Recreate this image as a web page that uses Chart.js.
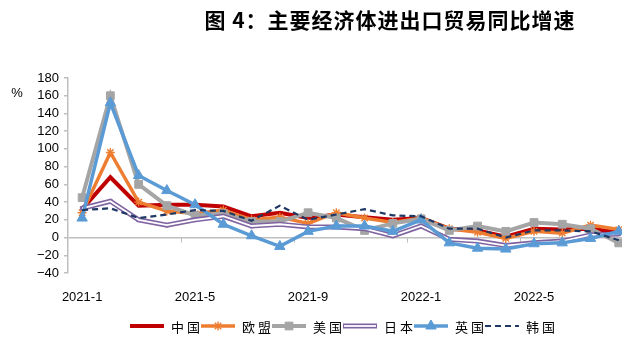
<!DOCTYPE html>
<html>
<head>
<meta charset="utf-8">
<script src="https://cdn.jsdelivr.net/npm/chart.js@4/dist/chart.umd.min.js"></script>
<style>
  html, body { margin: 0; padding: 0; background: #fff; overflow: hidden; }
  #wrap { position: relative; width: 629px; height: 349px; overflow: hidden; }
  #title { position: absolute; left: 0; top: 4px; width: 780px; text-align: center;
           font: bold 21px "Noto Sans CJK SC", sans-serif; color: #000; letter-spacing: 1px; }
  canvas { position: absolute; left: 0; top: 0; }
</style>
</head>
<body>
<div id="wrap">
  <canvas id="myChart" width="629" height="349"></canvas>
  <div id="title">图 4：主要经济体进出口贸易同比增速</div>
</div>
<script>
// 月份 2021-1 .. 2022-8
var months = ['2021-1', '2021-2', '2021-3', '2021-4', '2021-5', '2021-6', '2021-7', '2021-8', '2021-9', '2021-10',
              '2021-11', '2021-12', '2022-1', '2022-2', '2022-3', '2022-4', '2022-5', '2022-6', '2022-7', '2022-8'];
var labelIdx = [0, 4, 8, 12, 16];
var yTicks = [-40, -20, 0, 20, 40, 60, 80, 100, 120, 140, 160, 180];

var china = [32, 68, 36, 37, 37, 35, 24, 28, 22, 26, 23, 20, 22, 10, 8, 1, 10, 9, 10, 6];
var eu    = [28, 96, 40, 30, 27, 31, 20, 23, 16, 28, 22, 17, 22, 10, 6, -1, 7, 5, 14, 9];
var us    = [45, 160, 60, 36, 25, 27, 18, 18, 28, 22, 8, 16, 21, 8, 13, 7, 17, 15, 10, -6];
var japan = [33, 41, 20, 14, 20, 24, 13, 15, 12, 12, 10, 2, 13, -2, -4, -9, -6, -4, 3, 4];
var uk    = [22, 152, 70, 53, 37, 15, 2, -10, 7, 13, 13, 7, 20, -6, -12, -13, -7, -6, -1, 7];
var korea = [31, 33, 22, 26, 31, 30, 19, 36, 20, 26, 32, 25, 24, 10, 10, 0, 8, 8, 7, -3];

function pts(arr) {
    return arr.map(function(v, i) { return { x: i, y: v }; });
}

var axisGray = '#BFBFBF';
var cjk = '"Noto Sans CJK SC", sans-serif';

// 图例 + “%” 标注
var extrasPlugin = {
    id: 'extras',
    beforeDatasetsDraw: function(chart) {
        var ctx = chart.ctx, xs = chart.scales.x, ys = chart.scales.y;
        var y0 = ys.getPixelForValue(0);
        ctx.save();
        ctx.strokeStyle = axisGray;
        ctx.lineWidth = 1;
        [4, 8, 12, 16].forEach(function(k) {
            var px = Math.round(xs.getPixelForValue(k - 0.5)) + 0.5;
            ctx.beginPath();
            ctx.moveTo(px, y0);
            ctx.lineTo(px, y0 + 5);
            ctx.stroke();
        });
        ctx.restore();
    },
    afterDraw: function(chart) {
        var ctx = chart.ctx;
        ctx.save();
        ctx.fillStyle = '#000';
        ctx.font = '13px "Liberation Sans", Arial';
        ctx.textAlign = 'center';
        ctx.textBaseline = 'middle';
        ctx.fillText('%', 17, 93);

        var x = 130, y = 326;
        chart.data.datasets.forEach(function(d) {
            if (d.overlay) return;
            ctx.save();
            ctx.strokeStyle = d.borderColor;
            ctx.lineWidth = d.borderWidth;
            ctx.setLineDash(d.borderDash || []);
            ctx.beginPath();
            ctx.moveTo(x, y);
            ctx.lineTo(x + 34, y);
            ctx.stroke();
            if (d.label === '日本') {
                ctx.strokeStyle = '#fff';
                ctx.lineWidth = 1.8;
                ctx.beginPath();
                ctx.moveTo(x + 1, y);
                ctx.lineTo(x + 33, y);
                ctx.stroke();
            }
            ctx.setLineDash([]);
            if (d.pointRadius > 0 && d.label !== '日本') {
                ctx.fillStyle = d.pointBackgroundColor;
                ctx.strokeStyle = d.pointBorderColor;
                ctx.lineWidth = d.pointBorderWidth;
                Chart.helpers.drawPoint(ctx, {
                    pointStyle: d.pointStyle, radius: d.pointRadius, rotation: 0, borderWidth: d.pointBorderWidth
                }, x + 17, y);
            }
            ctx.fillStyle = '#000';
            ctx.font = '13px ' + cjk;
            ctx.textAlign = 'left';
            ctx.fillText(d.label.split('').join(' '), x + 41, y + 1);
            ctx.restore();
            x += 71;
        });
        ctx.restore();
    }
};

document.addEventListener('DOMContentLoaded', function() {
    var datasets = [
        { label: '韩国', data: pts(korea), borderColor: '#1F3864', borderWidth: 2.2, borderDash: [6, 4],
          pointRadius: 0, order: 0 },
        { label: '英国', data: pts(uk), borderColor: '#5B9BD5', borderWidth: 3.5,
          pointStyle: 'triangle', pointRadius: 6, pointBackgroundColor: '#5B9BD5', pointBorderColor: '#5B9BD5',
          pointBorderWidth: 1, order: 1 },
        { label: '日本-inner', overlay: true, data: pts(japan), borderColor: '#fff', borderWidth: 1.8,
          pointRadius: 0, order: 2 },
        { label: '日本', data: pts(japan), borderColor: '#8064A2', borderWidth: 5,
          pointStyle: 'rect', pointRadius: 2.5, pointBackgroundColor: '#8064A2', pointBorderColor: '#8064A2',
          pointBorderWidth: 1, order: 3 },
        { label: '美国', data: pts(us), borderColor: '#A5A5A5', borderWidth: 4,
          pointStyle: 'rect', pointRadius: 5.5, pointBackgroundColor: '#A5A5A5', pointBorderColor: '#A5A5A5',
          pointBorderWidth: 1, order: 4 },
        { label: '欧盟', data: pts(eu), borderColor: '#ED7D31', borderWidth: 3.5,
          pointStyle: 'star', pointRadius: 4.5, pointBackgroundColor: '#ED7D31', pointBorderColor: '#ED7D31',
          pointBorderWidth: 1.4, order: 5 },
        { label: '中国', data: pts(china), borderColor: '#C00000', borderWidth: 4,
          pointRadius: 0, order: 6 }
    ];
    // 图例顺序：中国 欧盟 美国 日本 英国 韩国
    datasets.reverse();

    var ctx = document.getElementById('myChart').getContext('2d');
    var myChart = new Chart(ctx, {
        type: 'line',
        data: { datasets: datasets },
        options: {
            responsive: false,
            animation: false,
            layout: { padding: { top: 78, left: 0, right: 0, bottom: 0 } },
            elements: { line: { tension: 0 } },
            plugins: { legend: { display: false }, tooltip: { enabled: false } },
            scales: {
                x: {
                    type: 'linear', min: -0.5, max: 19.115,
                    afterBuildTicks: function(s) {
                        s.ticks = labelIdx.map(function(v) { return { value: v }; });
                    },
                    afterFit: function(s) { s.height = 76; },
                    ticks: {
                        callback: function(v) { return months[v]; },
                        autoSkip: false, maxRotation: 0, padding: 9, color: '#000',
                        font: { family: '"Liberation Sans", Arial', size: 13 }
                    },
                    grid: { display: false },
                    border: { display: false }
                },
                y: {
                    min: -40, max: 180,
                    afterBuildTicks: function(s) {
                        s.ticks = yTicks.map(function(v) { return { value: v }; });
                    },
                    afterFit: function(s) { s.width = 68; },
                    ticks: {
                        callback: function(v) { return v < 0 ? '\u2212' + (-v) : v; },
                        autoSkip: false, padding: 5, color: '#000',
                        font: { family: '"Liberation Sans", Arial', size: 13 }
                    },
                    grid: {
                        color: function(c) { return c.tick && c.tick.value === 0 ? axisGray : 'rgba(0,0,0,0)'; },
                        tickColor: axisGray, tickLength: 4, lineWidth: 1.5
                    },
                    border: { color: axisGray, width: 1.5 }
                }
            }
        },
        plugins: [extrasPlugin]
    });
});
</script>
</body>
</html>
